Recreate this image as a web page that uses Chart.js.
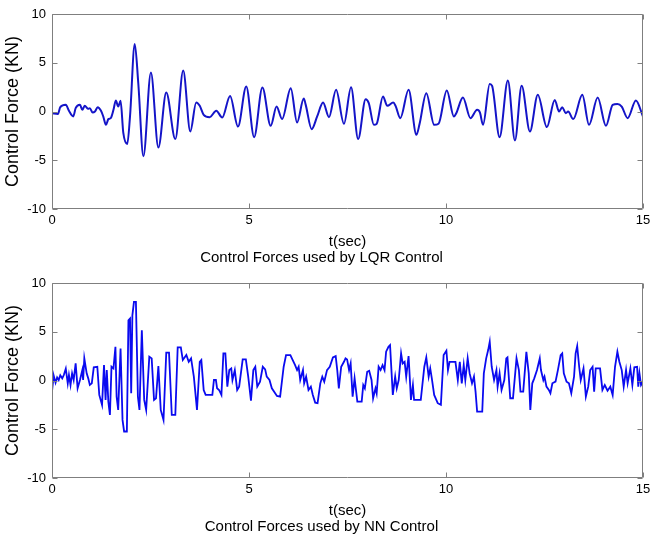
<!DOCTYPE html>
<html>
<head>
<meta charset="utf-8">
<script src="https://cdn.jsdelivr.net/npm/chart.js@4/dist/chart.umd.min.js"></script>
<style>
  body { margin: 0; background: #fff; }
  #wrap { position: relative; width: 650px; height: 537px; }
  canvas { position: absolute; left: 0; }
  #lqrChart { top: 0; }
  #nnChart { top: 268px; }
</style>
</head>
<body>
<div id="wrap">
  <canvas id="lqrChart" width="650" height="268"></canvas>
  <canvas id="nnChart" width="650" height="269"></canvas>
</div>
<script>
// time axis ticks / ranges
const xTicks = [0, 5, 10, 15];
const yTicks = [-10, -5, 0, 5, 10];

// LQR control force (peaks and troughs)
const tLqr = [0, 0.15, 0.21, 0.35, 0.43, 0.54, 0.60, 0.71, 0.77, 0.83,
  0.92, 0.96, 1.03, 1.09, 1.16, 1.24, 1.30, 1.37, 1.43, 1.49,
  1.56, 1.62, 1.68, 1.74, 1.81, 1.91, 1.98, 2.10, 2.19, 2.32,
  2.51, 2.70, 2.90, 3.13, 3.33, 3.51, 3.66, 3.75, 3.85, 4.00,
  4.17, 4.32, 4.52, 4.72, 4.93, 5.13, 5.34, 5.55, 5.70, 5.84,
  6.06, 6.22, 6.39, 6.44, 6.59, 6.73, 6.88, 7.03, 7.21, 7.41,
  7.59, 7.77, 7.96, 8.04, 8.17, 8.24, 8.40, 8.51, 8.66, 8.72,
  8.84, 9.05, 9.25, 9.33, 9.50, 9.70, 9.81, 10.02, 10.20, 10.26,
  10.43, 10.62, 10.79, 10.86, 10.94, 11.11, 11.17, 11.36, 11.57, 11.75,
  11.92, 12.13, 12.33, 12.56, 12.76, 12.87, 12.95, 13.04, 13.10, 13.23,
  13.46, 13.63, 13.85, 14.06, 14.23, 14.35, 14.46, 14.61, 14.82, 15.0];
const fLqr = [-0.17, -0.25, 0.44, 0.68, 0.07, -0.5, 0.34, 0.68, 0.17, 0.58,
  0.27, 0.34, -0.1, 0, 0.44, 0.1, -0.5, -1.37, -0.78, -0.68,
  0.17, 1.13, 0.51, 1.09, -2.2, -3.34, -0.5, 6.93, 2.9, -4.6,
  4.0, -3.7, 1.95, -2.83, 4.2, -2.05, 0.92, 0.58, -0.34, -0.58,
  0.07, -0.61, 1.6, -1.54, 2.56, -2.63, 2.46, -1.47, 0.51, -0.78,
  2.39, -1.13, 1.33, 0.68, -1.81, -0.51, 0.92, -0.58, 2.22, -1.26,
  2.49, -2.83, 1.26, 0.85, -1.37, -1.26, 1.54, 0.58, 0.92, 0.58,
  -0.68, 2.22, -2.39, -1.26, 1.88, -1.37, -1.26, 2.15, -0.51, -0.17,
  1.43, -0.68, 0.17, -0.1, -1.37, 2.83, 2.63, -2.63, 3.17, -2.97,
  2.63, -2.05, 1.71, -1.6, 1.19, 0, 0.44, -0.17, 0, -0.78,
  1.71, -1.37, 1.43, -1.47, 0.68, 0.78, 0.51, -0.68, 1.13, -0.51];

// NN control force
const tNn = [0, 0.03, 0.05, 0.09, 0.13, 0.17, 0.21, 0.26, 0.30, 0.35,
  0.40, 0.43, 0.47, 0.51, 0.55, 0.60, 0.65, 0.71, 0.77, 0.79,
  0.82, 0.88, 0.92, 0.96, 1.01, 1.06, 1.15, 1.20, 1.27, 1.32,
  1.36, 1.39, 1.43, 1.47, 1.51, 1.56, 1.61, 1.64, 1.68, 1.74,
  1.79, 1.83, 1.90, 1.94, 1.98, 2.01, 2.04, 2.08, 2.13, 2.18,
  2.22, 2.28, 2.34, 2.39, 2.47, 2.53, 2.59, 2.64, 2.70, 2.76,
  2.83, 2.90, 2.97, 3.04, 3.13, 3.19, 3.27, 3.32, 3.41, 3.47,
  3.53, 3.60, 3.68, 3.75, 3.79, 3.85, 3.90, 4.07, 4.11, 4.16,
  4.19, 4.24, 4.30, 4.35, 4.40, 4.45, 4.50, 4.55, 4.58, 4.64,
  4.70, 4.75, 4.84, 4.92, 4.98, 5.05, 5.11, 5.16, 5.21, 5.28,
  5.35, 5.41, 5.45, 5.52, 5.58, 5.71, 5.79, 5.88, 5.94, 6.05,
  6.11, 6.17, 6.22, 6.26, 6.30, 6.37, 6.40, 6.45, 6.51, 6.57,
  6.62, 6.68, 6.74, 6.81, 6.86, 6.91, 6.98, 7.05, 7.13, 7.20,
  7.24, 7.28, 7.34, 7.41, 7.45, 7.49, 7.54, 7.58, 7.63, 7.68,
  7.75, 7.86, 7.90, 7.94, 8.00, 8.05, 8.11, 8.15, 8.21, 8.24,
  8.29, 8.34, 8.39, 8.44, 8.48, 8.54, 8.58, 8.65, 8.71, 8.75,
  8.80, 8.86, 8.90, 8.95, 8.99, 9.05, 9.07, 9.11, 9.16, 9.19,
  9.36, 9.45, 9.50, 9.56, 9.60, 9.64, 9.70, 9.79, 9.87, 9.94,
  10.01, 10.05, 10.09, 10.24, 10.30, 10.35, 10.40, 10.45, 10.49, 10.55,
  10.60, 10.66, 10.71, 10.75, 10.79, 10.92, 10.96, 11.02, 11.07, 11.11,
  11.16, 11.22, 11.28, 11.31, 11.36, 11.41, 11.48, 11.53, 11.56, 11.63,
  11.70, 11.79, 11.85, 11.89, 11.96, 12.04, 12.10, 12.14, 12.19, 12.24,
  12.31, 12.38, 12.41, 12.47, 12.50, 12.55, 12.61, 12.65, 12.70, 12.78,
  12.84, 12.91, 12.95, 12.99, 13.06, 13.12, 13.18, 13.25, 13.29, 13.33,
  13.38, 13.42, 13.49, 13.55, 13.61, 13.66, 13.72, 13.76, 13.80, 13.91,
  13.97, 14.03, 14.10, 14.17, 14.23, 14.29, 14.35, 14.40, 14.46, 14.51,
  14.57, 14.61, 14.68, 14.73, 14.78, 14.85, 14.88, 14.91, 14.95, 15.0];
const fNn = [-1.14, 0.05, 0.39, -0.22, 0.32, 0.05, 0.53, 0.22, 0.56, 1.21,
  -0.29, 0.56, -0.46, 0.73, 0.05, 1.75, -0.8, 0.05, 1.07, 0.05,
  2.27, 0.73, 0.22, -0.46, -0.29, 1.35, 1.41, -1.48, -2.5, 1.58,
  -1.99, 1.07, -2.16, -3.53, 1.41, 1.24, 3.46, -1.65, -3.02, 3.29,
  -4.04, -5.23, -5.23, 6.18, 6.35, -1.31, 6.69, 8.06, 8.06, -1.65,
  -3.02, 5.16, -1.99, -3.02, 2.44, 2.27, -1.99, -1.82, 1.48, -3.02,
  -4.04, 2.85, 2.85, -3.53, -3.53, 3.39, 3.39, 2.1, 2.61, 1.92,
  2.27, 0.39, -3.02, 1.92, 2.1, -0.97, -1.48, -1.48, 0.05, 0.05,
  -0.8, -0.97, -1.48, 2.78, 2.78, -0.63, 1.07, 1.24, 0.05, 1.07,
  -0.97, -0.63, 2.16, 2.16, 0.39, -2.06, 1.07, 1.41, -0.63, -0.12,
  1.41, 1.14, 0.39, 0.05, -0.8, -1.58, -1.65, 1.41, 2.61, 2.61,
  2.1, 1.58, 1.07, 1.41, 0.05, 1.07, -0.29, 0.39, -0.97, -0.63,
  -1.48, -2.27, -2.33, -0.29, 0.39, -0.12, 1.07, 1.41, 2.37, 2.5,
  1.07, -0.8, 1.41, 1.92, 2.27, 2.16, 1.07, 1.75, -1.65, 0.22,
  -2.16, -2.16, -0.46, -0.8, 0.9, 1.0, 0.05, -1.82, -0.8, -1.31,
  1.41, 1.07, 1.58, 1.07, 2.95, 3.46, 3.63, -1.48, 0.39, -0.8,
  0.05, 2.78, 1.75, 1.92, 0.39, 2.5, 1.07, -1.99, -0.46, -1.99,
  -1.99, 1.41, 2.37, 0.39, 1.24, 0.22, -1.48, -2.33, -2.5, 2.61,
  3.05, 1.07, 1.92, 1.92, 0.05, 1.92, -0.29, 1.58, 0.05, 2.27,
  0.73, -0.29, 0.39, -1.14, -3.19, -3.19, 0.73, 2.27, 3.12, 3.97,
  1.41, 0.05, 1.07, -0.63, 0.73, -0.97, 0.05, 2.27, 2.37, -1.82,
  -1.82, 2.27, 1.07, -1.14, -1.14, 2.95, 0.73, -3.02, -0.29, 0.22,
  1.07, 2.27, 1.07, 0.05, 0.39, -0.63, -0.97, -1.31, -0.29, -0.12,
  1.07, 2.61, 2.78, 0.73, -0.12, -0.29, -1.31, 0.39, 2.78, 3.53,
  1.41, 0.05, 1.24, -1.65, -0.63, 1.07, 1.41, -1.14, 1.24, 1.24,
  -0.97, -0.46, -1.04, -0.63, -1.48, 1.41, 2.95, 1.92, 1.07, -0.63,
  1.07, -0.29, 1.24, -0.46, 1.35, 1.41, -0.63, 0.73, -0.46, -0.12];

const FONT = 'Liberation Sans, Arial, sans-serif';

// matlab style box with inward ticks on all four sides
const boxTicks = {
    id: 'boxTicks',
    afterDatasetsDraw(chart) {
        const { ctx, chartArea: a, scales } = chart;
        const L = Math.round(a.left) + 0.5, R = Math.round(a.right) - 0.5;
        const T = Math.round(a.top) + 0.5, B = Math.round(a.bottom) - 0.5;
        const len = 5;
        ctx.save();
        ctx.strokeStyle = '#7f7f7f';
        ctx.lineWidth = 1;
        ctx.beginPath();
        ctx.rect(L, T, R - L, B - T);
        scales.x.ticks.forEach(t => {
            const px = Math.round(scales.x.getPixelForValue(t.value)) + 0.5;
            ctx.moveTo(px, B); ctx.lineTo(px, B - len);
            ctx.moveTo(px, T); ctx.lineTo(px, T + len);
        });
        scales.y.ticks.forEach(t => {
            const py = Math.round(scales.y.getPixelForValue(t.value)) + 0.5;
            ctx.moveTo(L, py); ctx.lineTo(L + len, py);
            ctx.moveTo(R, py); ctx.lineTo(R - len, py);
        });
        ctx.stroke();
        ctx.restore();
    }
};

function makeChart(id, times, forces, title, color, width, smooth, topPad) {
    const pts = times.map((t, i) => ({ x: t, y: forces[i] }));
    return new Chart(document.getElementById(id).getContext('2d'), {
        type: 'line',
        data: {
            datasets: [{
                data: pts,
                borderColor: color,
                borderWidth: width,
                pointRadius: 0,
                fill: false,
                cubicInterpolationMode: smooth ? 'monotone' : 'default',
                tension: 0
            }]
        },
        options: {
            responsive: false,
            animation: false,
            layout: { padding: { top: topPad, right: 7, bottom: 1, left: 0 } },
            plugins: {
                legend: { display: false },
                tooltip: { enabled: false },
                title: {
                    display: true,
                    text: title,
                    position: 'bottom',
                    color: '#000',
                    font: { family: FONT, size: 15, weight: 'normal', lineHeight: 1.2 },
                    padding: 0
                }
            },
            scales: {
                x: {
                    type: 'linear',
                    min: xTicks[0],
                    max: xTicks[xTicks.length - 1],
                    afterBuildTicks: s => { s.ticks = xTicks.map(v => ({ value: v })); },
                    ticks: { color: '#000', font: { family: FONT, size: 13 }, padding: 4, maxRotation: 0, autoSkip: false },
                    grid: { display: false, drawTicks: false },
                    border: { display: false },
                    title: {
                        display: true, text: 't(sec)', color: '#000',
                        font: { family: FONT, size: 15, lineHeight: 1 },
                        padding: 0
                    },
                    afterFit: s => { s.height = 40; s.paddingLeft = 0; s.paddingRight = 0; }
                },
                y: {
                    min: yTicks[0],
                    max: yTicks[yTicks.length - 1],
                    afterBuildTicks: s => { s.ticks = yTicks.map(v => ({ value: v })); },
                    ticks: { color: '#000', font: { family: FONT, size: 13 }, padding: 6 },
                    grid: { display: false, drawTicks: false },
                    border: { display: false },
                    title: {
                        display: true, text: 'Control Force (KN)', color: '#000',
                        font: { family: FONT, size: 18, lineHeight: 1 },
                        padding: { top: 4, bottom: 0 }
                    },
                    afterFit: s => { s.width = 52; s.paddingTop = 0; s.paddingBottom = 0; }
                }
            }
        },
        plugins: [boxTicks]
    });
}

makeChart('lqrChart', tLqr, fLqr, 'Control Forces used by LQR Control', '#1414c8', 2, true, 14);
makeChart('nnChart', tNn, fNn, 'Control Forces used by NN Control', '#0a0af0', 1.8, false, 15);
</script>
</body>
</html>
